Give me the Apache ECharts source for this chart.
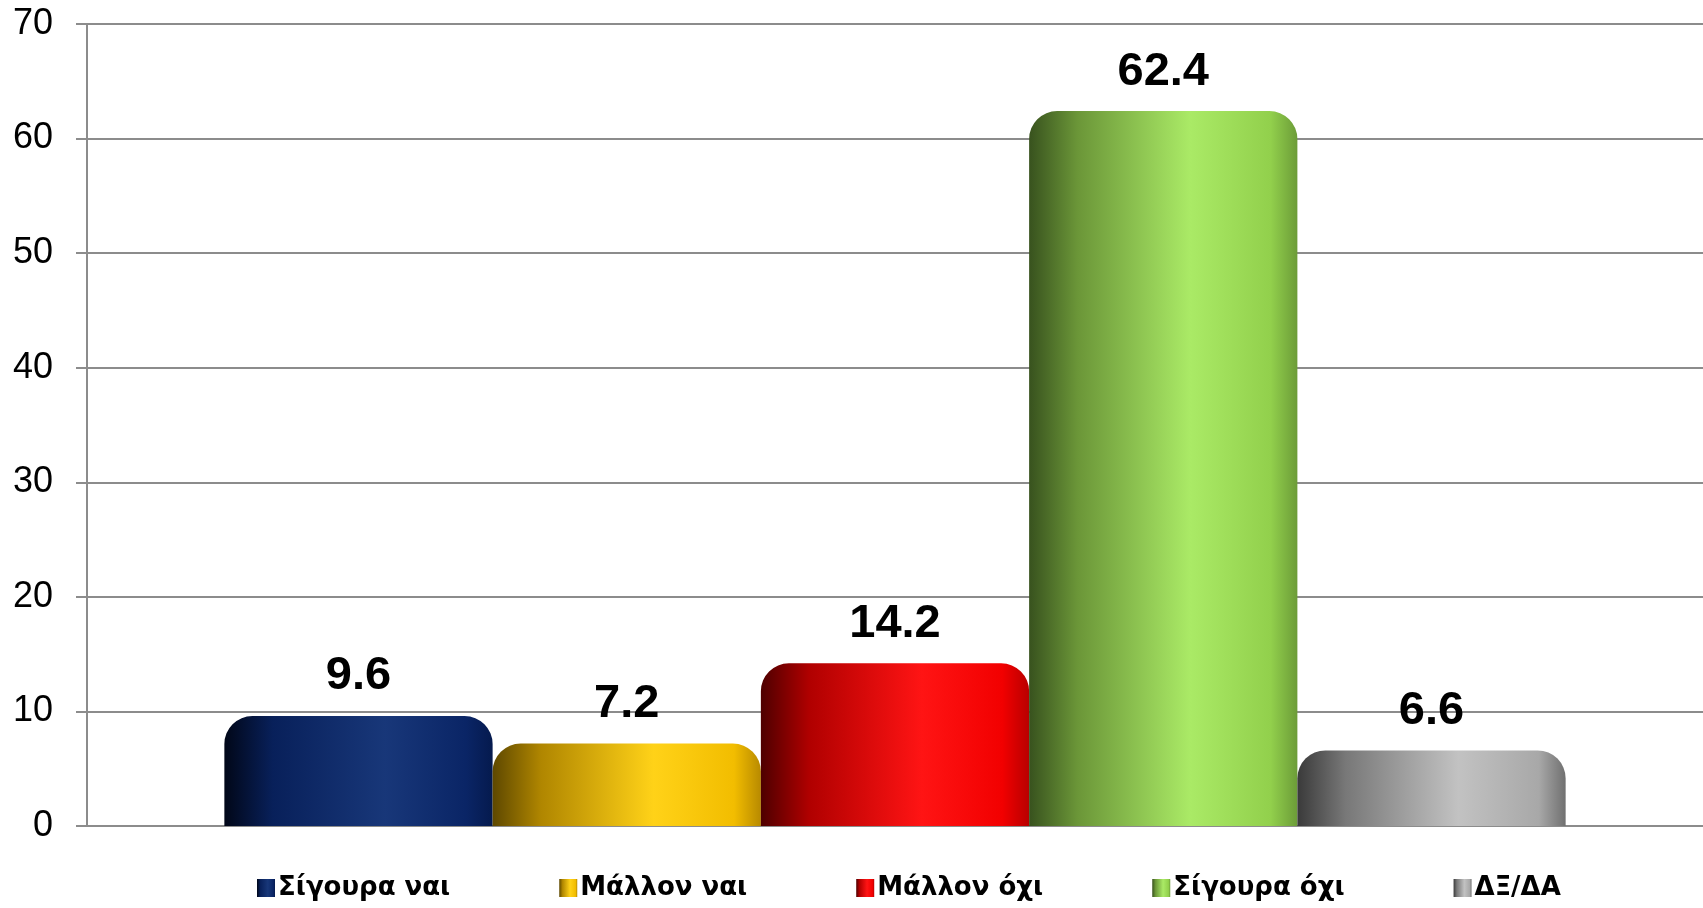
<!DOCTYPE html>
<html>
<head>
<meta charset="utf-8">
<script src="https://cdn.jsdelivr.net/npm/echarts@6/dist/echarts.min.js"></script>
<style>
  html, body { margin: 0; padding: 0; background: #fff; }
  #chart { width: 1703px; height: 908px; }
</style>
</head>
<body>
<div id="chart"></div>
<script>
// data
let categories = [''];
let seriesNames = ['Σίγουρα ναι', 'Μάλλον ναι', 'Μάλλον όχι', 'Σίγουρα όχι', 'ΔΞ/ΔΑ'];
let seriesValues = [9.6, 7.2, 14.2, 62.4, 6.6];
let yTicks = [0, 10, 20, 30, 40, 50, 60, 70];

// shading: dark left edge -> light centre-right -> darker right edge
let shades = [
  ['#010718', '#08205a', '#183779', '#0a2566', '#051a4e'],
  ['#5e4800', '#b08600', '#ffd218', '#f2bd00', '#b88a00'],
  ['#4e0000', '#b00000', '#ff1414', '#f20000', '#b80000'],
  ['#38521e', '#6b9638', '#aaea66', '#92d04c', '#6c9c38'],
  ['#3a3a3a', '#787878', '#c2c2c2', '#a8a8a8', '#707070']
];

function grad(c) {
  return {
    type: 'linear', x: 0, y: 0, x2: 1, y2: 0,
    colorStops: [
      { offset: 0, color: c[0] },
      { offset: 0.18, color: c[1] },
      { offset: 0.6, color: c[2] },
      { offset: 0.9, color: c[3] },
      { offset: 1, color: c[4] }
    ]
  };
}

let myChart = echarts.init(document.getElementById('chart'));
let font = '"Liberation Sans", Arial, sans-serif';

let series = seriesNames.map(function (name, i) {
  return {
    name: name,
    type: 'bar',
    barGap: '0%',
    barCategoryGap: '17%',
    data: [seriesValues[i]],
    itemStyle: {
      color: grad(shades[i]),
      borderRadius: [28, 28, 0, 0]
    },
    label: {
      show: true,
      position: 'top',
      distance: 16,
      color: '#000',
      fontFamily: font,
      fontSize: 47,
      fontWeight: 'bold'
    }
  };
});

let option = {
  animation: false,
  backgroundColor: '#fff',
  grid: { left: 87, right: 0, top: 24, bottom: 82 },
  legend: {
    bottom: 2,
    left: 252,
    itemWidth: 18,
    itemHeight: 18,
    itemGap: 109,
    icon: 'rect',
    data: seriesNames,
    textStyle: { fontFamily: '"DejaVu Sans", sans-serif', fontWeight: 'bold', fontSize: 26, color: '#000', padding: [0, 0, 0, -2] }
  },
  xAxis: {
    type: 'category',
    data: categories,
    axisLine: { lineStyle: { color: '#8c8c8c', width: 2 } },
    axisTick: { show: false },
    axisLabel: { show: false }
  },
  yAxis: {
    type: 'value',
    min: yTicks[0],
    max: yTicks[yTicks.length - 1],
    interval: 10,
    axisLine: { show: true, lineStyle: { color: '#8c8c8c', width: 2 } },
    axisTick: { show: true, length: 11, lineStyle: { color: '#8c8c8c', width: 2 } },
    axisLabel: { color: '#000', fontFamily: font, fontSize: 36, margin: 34 },
    splitLine: { lineStyle: { color: '#8c8c8c', width: 2 } }
  },
  series: series
};

myChart.setOption(option);
</script>
</body>
</html>
